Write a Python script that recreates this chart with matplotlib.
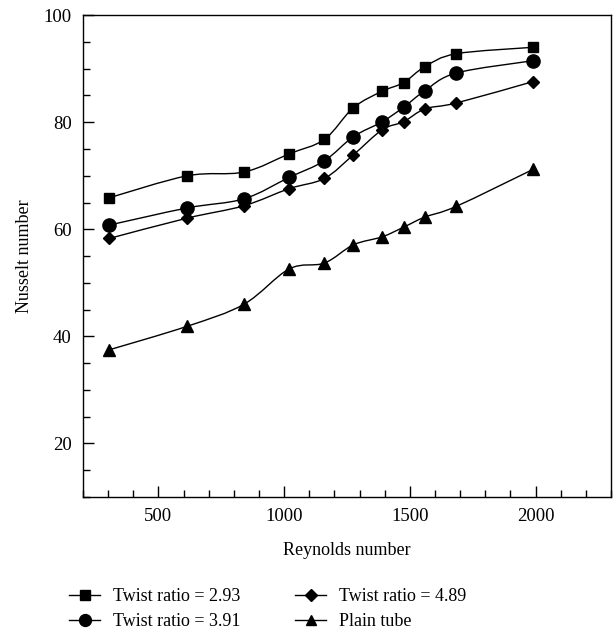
import numpy as np
import matplotlib
matplotlib.use("Agg")
import matplotlib.pyplot as plt
from matplotlib.path import Path
from matplotlib.patches import PathPatch
from matplotlib.lines import Line2D
from matplotlib.ticker import MultipleLocator

plt.rcParams["font.family"] = ["Liberation Serif", "DejaVu Serif"]

reynolds = [305, 615, 840, 1020, 1160, 1275, 1390, 1475, 1560, 1685, 1990]
nu_293 = [65.9, 70.0, 70.7, 74.1, 76.8, 82.7, 85.8, 87.4, 90.4, 92.8, 94.0]
nu_391 = [60.8, 64.0, 65.7, 69.7, 72.8, 77.3, 80.1, 82.8, 85.9, 89.2, 91.5]
nu_489 = [58.3, 62.1, 64.4, 67.6, 69.5, 73.9, 78.6, 80.1, 82.5, 83.6, 87.6]
nu_plain = [37.5, 41.9, 46.0, 52.6, 53.7, 57.1, 58.6, 60.4, 62.3, 64.3, 71.2]

labels = ["Twist ratio = 2.93", "Twist ratio = 3.91", "Twist ratio = 4.89", "Plain tube"]
markers = ["s", "o", "D", "^"]
msizes = [7.5, 9.5, 6.5, 8.5]


def smooth_path(x, y):
    # catmull-rom through the points, drawn as cubic bezier segments
    p = np.column_stack([x, y]).astype(float)
    ext = np.vstack([p[0], p, p[-1]])
    verts = [p[0]]
    codes = [Path.MOVETO]
    for i in range(1, len(ext) - 2):
        c1 = ext[i] + (ext[i + 1] - ext[i - 1]) / 6.0
        c2 = ext[i + 1] - (ext[i + 2] - ext[i]) / 6.0
        verts += [c1, c2, ext[i + 1]]
        codes += [Path.CURVE4] * 3
    return Path(verts, codes)


fig = plt.figure(figsize=(6.16, 6.32), dpi=100)
ax = fig.add_axes([0.1347, 0.2136, 0.8573, 0.7624])

series = [nu_293, nu_391, nu_489, nu_plain]
for ys, m, ms in zip(series, markers, msizes):
    ax.add_patch(PathPatch(smooth_path(reynolds, ys), fill=False, lw=1.0, ec="black"))
    ax.plot(reynolds, ys, ls="none", marker=m, ms=ms, color="black")

ax.set_xlim(200, 2300)
ax.set_ylim(10, 100)
ax.xaxis.set_major_locator(MultipleLocator(500))
ax.xaxis.set_minor_locator(MultipleLocator(100))
ax.yaxis.set_major_locator(MultipleLocator(20))
ax.yaxis.set_minor_locator(MultipleLocator(5))
ax.set_xticks([500, 1000, 1500, 2000])
ax.tick_params(which="both", direction="in", top=False, right=False, labelsize=13.5, width=1.0)
ax.tick_params(which="major", length=8, pad=8)
ax.tick_params(which="minor", length=5)
for s in ax.spines.values():
    s.set_linewidth(1.0)

ax.set_xlabel("Reynolds number", fontsize=13, labelpad=12)
ax.set_ylabel("Nusselt number", fontsize=13, labelpad=8)

handles = [Line2D([], [], color="black", lw=1.0, marker=m, ms=ms * 0.9) for m, ms in zip(markers, msizes)]
fig.legend(handles, labels, loc="upper left", bbox_to_anchor=(0.1, 0.081),
           ncol=2, frameon=False, borderaxespad=0.0,
           fontsize=13, handlelength=1.75, handletextpad=0.7, columnspacing=3.0,
           labelspacing=0.45, numpoints=1)

fig.savefig("out.png", dpi=100)
